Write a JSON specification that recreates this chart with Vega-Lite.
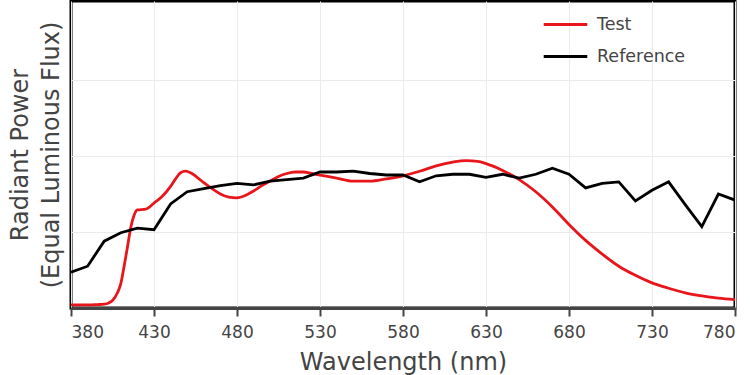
{
  "$schema": "https://vega.github.io/schema/vega-lite/v6.json",
  "width": 664,
  "height": 307,
  "autosize": "none",
  "padding": {"left": 71, "top": 1, "right": 15, "bottom": 67},
  "config": {
    "view": {"stroke": "black", "strokeWidth": 3},
    "font": "DejaVu Sans",
    "axis": {"gridColor": "#ebebeb", "gridWidth": 1}
  },
  "datasets": {
    "test": [
      {"w": 380, "v": 0.04}, {"w": 390, "v": 0.04}, {"w": 396, "v": 0.045}, {"w": 400, "v": 0.05},
      {"w": 403, "v": 0.07}, {"w": 405, "v": 0.1}, {"w": 408, "v": 0.2}, {"w": 410, "v": 0.32},
      {"w": 412, "v": 0.55}, {"w": 414, "v": 0.8}, {"w": 416, "v": 1.06}, {"w": 418, "v": 1.22},
      {"w": 420, "v": 1.29}, {"w": 425, "v": 1.3}, {"w": 430, "v": 1.38}, {"w": 435, "v": 1.47},
      {"w": 440, "v": 1.6}, {"w": 443, "v": 1.7}, {"w": 446, "v": 1.78}, {"w": 449, "v": 1.8},
      {"w": 452, "v": 1.78}, {"w": 456, "v": 1.72}, {"w": 460, "v": 1.65}, {"w": 465, "v": 1.57},
      {"w": 470, "v": 1.5}, {"w": 475, "v": 1.46}, {"w": 480, "v": 1.45}, {"w": 485, "v": 1.48},
      {"w": 490, "v": 1.54}, {"w": 495, "v": 1.61}, {"w": 500, "v": 1.67}, {"w": 505, "v": 1.73},
      {"w": 510, "v": 1.77}, {"w": 515, "v": 1.79}, {"w": 520, "v": 1.79}, {"w": 525, "v": 1.77},
      {"w": 530, "v": 1.75}, {"w": 540, "v": 1.71}, {"w": 550, "v": 1.67}, {"w": 560, "v": 1.67},
      {"w": 570, "v": 1.7}, {"w": 580, "v": 1.74}, {"w": 590, "v": 1.8}, {"w": 600, "v": 1.87},
      {"w": 610, "v": 1.92}, {"w": 618, "v": 1.94}, {"w": 625, "v": 1.93}, {"w": 630, "v": 1.9},
      {"w": 635, "v": 1.86}, {"w": 640, "v": 1.81}, {"w": 650, "v": 1.69}, {"w": 660, "v": 1.53},
      {"w": 670, "v": 1.33}, {"w": 680, "v": 1.1}, {"w": 690, "v": 0.89}, {"w": 700, "v": 0.71},
      {"w": 710, "v": 0.55}, {"w": 720, "v": 0.43}, {"w": 730, "v": 0.33}, {"w": 740, "v": 0.26},
      {"w": 750, "v": 0.2}, {"w": 760, "v": 0.16}, {"w": 770, "v": 0.13}, {"w": 780, "v": 0.11}
    ],
    "reference": [
      {"w": 380, "v": 0.47}, {"w": 390, "v": 0.55}, {"w": 400, "v": 0.88}, {"w": 410, "v": 0.99},
      {"w": 420, "v": 1.05}, {"w": 430, "v": 1.03}, {"w": 440, "v": 1.37}, {"w": 450, "v": 1.53},
      {"w": 460, "v": 1.57}, {"w": 470, "v": 1.61}, {"w": 480, "v": 1.64}, {"w": 490, "v": 1.62},
      {"w": 500, "v": 1.67}, {"w": 510, "v": 1.69}, {"w": 520, "v": 1.71}, {"w": 530, "v": 1.79},
      {"w": 540, "v": 1.79}, {"w": 550, "v": 1.8}, {"w": 560, "v": 1.77}, {"w": 570, "v": 1.75},
      {"w": 580, "v": 1.75}, {"w": 590, "v": 1.66}, {"w": 600, "v": 1.74}, {"w": 610, "v": 1.76},
      {"w": 620, "v": 1.76}, {"w": 630, "v": 1.72}, {"w": 640, "v": 1.76}, {"w": 650, "v": 1.71},
      {"w": 660, "v": 1.76}, {"w": 670, "v": 1.84}, {"w": 680, "v": 1.76}, {"w": 690, "v": 1.58},
      {"w": 700, "v": 1.64}, {"w": 710, "v": 1.66}, {"w": 720, "v": 1.41}, {"w": 730, "v": 1.55},
      {"w": 740, "v": 1.66}, {"w": 750, "v": 1.36}, {"w": 760, "v": 1.07}, {"w": 770, "v": 1.5},
      {"w": 780, "v": 1.42}
    ]
  },
  "layer": [
    {
      "data": {"name": "test"},
      "transform": [{"calculate": "'Test'", "as": "s"}],
      "mark": {"type": "line", "interpolate": "monotone", "strokeWidth": 2.8, "clip": true},
      "encoding": {
        "x": {"field": "w", "type": "quantitative",
          "scale": {"domain": [380, 780], "nice": false, "zero": false},
          "axis": {"values": [380, 430, 480, 530, 580, 630, 680, 730, 780], "title": "Wavelength (nm)",
            "titleFontSize": 24, "titleFontWeight": "normal", "titleColor": "#444", "titlePadding": 10,
            "labelFontSize": 17, "labelColor": "#444", "labelPadding": 8,
            "domainColor": "#444", "domainWidth": 3, "tickColor": "#444", "tickWidth": 2, "tickSize": 8,
            "gridColor": "#ebebeb"}},
        "y": {"field": "v", "type": "quantitative",
          "scale": {"domain": [0, 4.04], "nice": false},
          "axis": {"values": [1, 2, 3], "labels": false, "ticks": false, "domain": false,
            "title": ["Radiant Power", "(Equal Luminous Flux)"], "titleFontSize": 24, "titleFontWeight": "normal",
            "titleColor": "#444", "titlePadding": 8, "titleLineHeight": 31}},
        "color": {"field": "s", "type": "nominal",
          "scale": {"domain": ["Test", "Reference"], "range": ["#e8161b", "#000000"]},
          "legend": {"title": null, "orient": "none", "legendX": 471, "legendY": 0,
            "symbolType": "stroke", "symbolSize": 1900, "symbolStrokeWidth": 2.8,
            "labelFontSize": 17.5, "labelColor": "#444", "labelOffset": 8, "rowPadding": 0, "symbolOffset": 0}}
      }
    },
    {
      "data": {"name": "reference"},
      "transform": [{"calculate": "'Reference'", "as": "s"}],
      "mark": {"type": "line", "strokeWidth": 2.8, "clip": true},
      "encoding": {
        "x": {"field": "w", "type": "quantitative"},
        "y": {"field": "v", "type": "quantitative"},
        "color": {"field": "s", "type": "nominal"}
      }
    }
  ]
}
